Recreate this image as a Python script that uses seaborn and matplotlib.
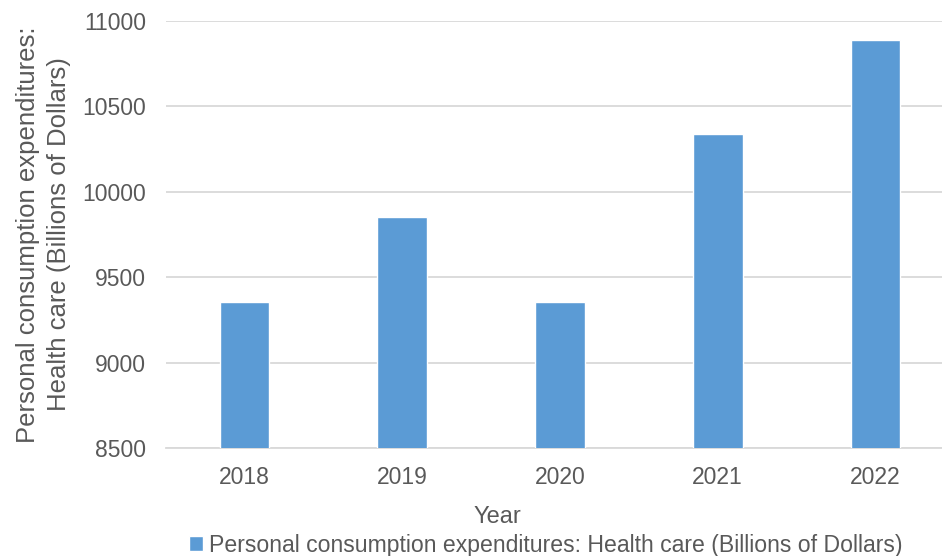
import matplotlib
matplotlib.use("Agg")
import matplotlib.pyplot as plt
import seaborn as sns
import pandas as pd

# chart data
years = ["2018", "2019", "2020", "2021", "2022"]
health_care = [9352, 9851, 9356, 10334, 10884]
y_ticks = [8500, 9000, 9500, 10000, 10500, 11000]
series_name = "Personal consumption expenditures: Health care (Billions of Dollars)"

sns.set_theme(style="white")
plt.rcParams["font.family"] = ["Liberation Sans", "DejaVu Sans"]

text_color = "#595959"
grid_color = "#D9D9D9"
bar_color = "#5B9BD5"

df = pd.DataFrame({"Year": years, "value": health_care})

fig = plt.figure(figsize=(9.42, 5.56), dpi=100)
ax = fig.add_axes([0.176, 0.194, 0.837, 0.769])

sns.barplot(data=df, x="Year", y="value", color=bar_color, width=0.315,
            saturation=1, label=series_name, ax=ax, zorder=3)

ax.set_ylim(8500, 11000)
ax.set_yticks(y_ticks)
ax.set_yticklabels([str(t) for t in y_ticks])
ax.yaxis.grid(True, color=grid_color, linewidth=1.3, zorder=0)
ax.set_axisbelow(True)

for s in ["top", "right", "left"]:
    ax.spines[s].set_visible(False)
ax.spines["bottom"].set_color(grid_color)
ax.spines["bottom"].set_linewidth(1.3)

ax.tick_params(axis="both", length=0, labelsize=16.5, colors=text_color)
ax.tick_params(axis="y", pad=14)
ax.tick_params(axis="x", pad=13)

ax.set_xlabel("Year", fontsize=17, color=text_color)
ax.xaxis.set_label_coords(0.42, -0.135)
ax.set_ylabel("Personal consumption expenditures:\nHealth care (Billions of Dollars)",
              fontsize=18.5, color=text_color, linespacing=1.4)
ax.yaxis.set_label_coords(-0.12, 0.5)

leg = ax.legend(loc="center", bbox_to_anchor=(0.482, -0.227), frameon=False,
                fontsize=16.6, handlelength=0.6, handleheight=0.6,
                handletextpad=0.3, borderaxespad=0)
for t in leg.get_texts():
    t.set_color(text_color)

fig.savefig("out.png", dpi=100)
